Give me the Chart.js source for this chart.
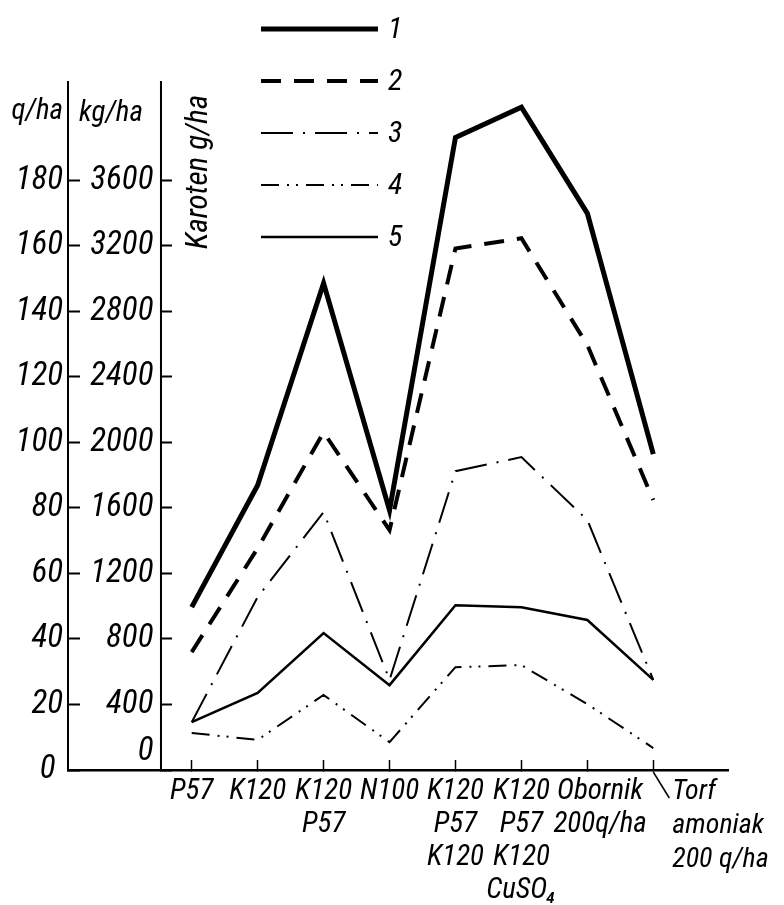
<!DOCTYPE html>
<html>
<head>
<meta charset="utf-8">
<script src="https://cdn.jsdelivr.net/npm/chart.js@4.4.0/dist/chart.umd.min.js"></script>
<style>
  html, body { margin: 0; padding: 0; background: #fff; }
  #wrap { width: 784px; height: 905px; position: relative; }
</style>
</head>
<body>
<div id="wrap"><canvas id="chart"></canvas></div>
<script>
// Kategorie nawozenia (os X)
const categories = [
    ['P57'],
    ['K120'],
    ['K120', 'P57'],
    ['N100'],
    ['K120', 'P57', 'K120'],
    ['K120', 'P57', 'K120', 'CuSO₄'],
    ['\u2002\u2002Obornik', '\u2002\u2002200q/ha'],
    ['Torf', 'amoniak', '200 q/ha']
];

const seriesNames = ['1', '2', '3', '4', '5'];

// values, in q/ha axis units
const seria1 = [49.7, 86.9, 148.6, 79.3, 193.1, 202.3, 169.9, 96.4];
const seria2 = [36.0, 67.7, 103.1, 73.2, 159.2, 162.3, 129.7, 82.4];
const seria3 = [14.6, 52.8, 78.7, 27.5, 91.2, 95.5, 76.3, 27.5];
const seria4 = [11.3, 9.2, 22.9, 8.5, 31.4, 32.0, 20.1, 6.7];
const seria5 = [14.6, 23.5, 41.8, 25.9, 50.3, 49.7, 45.8, 27.5];

// tick labels of both left axes
const qLabels = [0, 20, 40, 60, 80, 100, 120, 140, 160, 180];
const kgLabels = [0, 400, 800, 1200, 1600, 2000, 2400, 2800, 3200, 3600];

const FONT = "'Roboto Condensed', 'DejaVu Sans Condensed', 'DejaVu Sans', sans-serif";

const lineStyles = [
    { borderWidth: 5, borderDash: [] },
    { borderWidth: 4, borderDash: [20, 13] },
    { borderWidth: 2, borderDash: [32, 10, 2, 10] },
    { borderWidth: 2, borderDash: [18, 8, 2, 7, 2, 8] },
    { borderWidth: 2.5, borderDash: [] }
];

const allSeries = [seria1, seria2, seria3, seria4, seria5];

const datasets = allSeries.map((s, i) => ({
    label: seriesNames[i],
    data: s.map((v, j) => ({ x: j, y: v })),
    borderColor: '#000',
    borderWidth: lineStyles[i].borderWidth,
    borderDash: lineStyles[i].borderDash,
    borderCapStyle: 'butt',
    borderJoinStyle: 'miter',
    pointRadius: 0,
    tension: 0,
    fill: false,
    xAxisID: 'x',
    yAxisID: 'yQ'
}));

// axis lines, legend, axis titles and the Torf label with its leader line
const extrasPlugin = {
    id: 'extras',
    afterDraw(chart) {
        const ctx = chart.ctx;
        const xs = chart.scales.x;
        const area = chart.chartArea;
        ctx.save();
        ctx.fillStyle = '#000';
        ctx.strokeStyle = '#000';
        ctx.setLineDash([]);

        // both vertical axis lines, taken from the scales
        const kgX = xs.getPixelForValue(chart.options.scales.yKg.position.x);
        ctx.lineWidth = 2;
        ctx.beginPath();
        ctx.moveTo(area.left, area.top);
        ctx.lineTo(area.left, area.bottom);
        ctx.moveTo(kgX, area.top);
        ctx.lineTo(kgX, area.bottom);
        ctx.stroke();

        ctx.textBaseline = 'middle';
        ctx.font = 'italic 29px ' + FONT;
        ctx.textAlign = 'right';
        ctx.fillText('q/ha', 63, 112);
        ctx.textAlign = 'center';
        ctx.fillText('kg/ha', 111, 114);

        ctx.save();
        ctx.translate(199, 172);
        ctx.rotate(-Math.PI / 2);
        ctx.font = 'italic 31px ' + FONT;
        ctx.fillText('Karoten g/ha', 0, 0);
        ctx.restore();

        // legend
        chart.data.datasets.forEach((ds, i) => {
            const y = 29 + i * 52;
            ctx.beginPath();
            ctx.lineWidth = ds.borderWidth;
            ctx.setLineDash(ds.borderDash);
            ctx.lineCap = 'butt';
            ctx.moveTo(261, y);
            ctx.lineTo(378, y);
            ctx.stroke();
            ctx.setLineDash([]);
            ctx.font = 'italic 30px ' + FONT;
            ctx.textAlign = 'left';
            ctx.fillText(ds.label, 388, y + 1);
        });

        // last category label is set off to the right
        const last = categories.length - 1;
        const px = xs.getPixelForValue(last);
        ctx.beginPath();
        ctx.lineWidth = 1.5;
        ctx.moveTo(px, area.bottom + 2);
        ctx.lineTo(px + 16, area.bottom + 28);
        ctx.stroke();
        ctx.font = 'italic 28px ' + FONT;
        ctx.textAlign = 'left';
        categories[last].forEach((t, k) => {
            ctx.fillText(t, px + 19, area.bottom + 22 + k * 34);
        });
        ctx.restore();
    }
};

new Chart(document.getElementById('chart'), {
    type: 'line',
    data: { datasets: datasets },
    options: {
        responsive: true,
        maintainAspectRatio: false,
        animation: false,
        layout: { padding: { top: 82, right: 56, bottom: 0, left: 0 } },
        plugins: {
            legend: { display: false },
            tooltip: { enabled: false }
        },
        scales: {
            x: {
                type: 'linear',
                position: 'bottom',
                min: -1.876,
                max: 8.133,
                afterBuildTicks: (s) => { s.ticks = categories.map((c, i) => ({ value: i })); },
                afterFit: (s) => { s.height = 135; },
                border: { display: true, color: '#000', width: 2.5 },
                grid: { drawOnChartArea: false, tickLength: -10, tickColor: '#000', tickWidth: 1.5 },
                ticks: {
                    autoSkip: false,
                    maxRotation: 0,
                    padding: 15,
                    color: '#000',
                    font: { family: FONT, size: 29, style: 'italic', lineHeight: '33px' },
                    callback: (v) => (v < categories.length - 1 ? categories[v] : '')
                }
            },
            yQ: {
                axis: 'y',
                type: 'linear',
                position: 'left',
                min: 0,
                max: 210,
                afterBuildTicks: (s) => {
                    const t = [];
                    for (let v = 0; v <= 190; v += 10) t.push({ value: v });
                    s.ticks = t;
                },
                afterFit: (s) => { s.width = 68; },
                border: { display: true, color: '#000', width: 2 },
                grid: { drawOnChartArea: false, tickLength: -12, tickColor: '#000', tickWidth: 2 },
                ticks: {
                    padding: 17,
                    color: '#000',
                    font: { family: FONT, size: 33, style: 'italic' },
                    callback: (v) => (qLabels.includes(v) ? (v === 0 ? '0 ' : String(v)) : '')
                }
            },
            yKg: {
                axis: 'y',
                type: 'linear',
                position: { x: -0.466 },
                min: 0,
                max: 4200,
                afterBuildTicks: (s) => {
                    const t = [];
                    for (let v = 0; v <= 3800; v += 200) t.push({ value: v });
                    s.ticks = t;
                },
                border: { display: true, color: '#000', width: 2 },
                grid: { drawOnChartArea: false, tickLength: -12, tickColor: '#000', tickWidth: 2 },
                ticks: {
                    padding: 18,
                    color: '#000',
                    font: { family: FONT, size: 33, style: 'italic', lineHeight: '36px' },
                    callback: (v) => (kgLabels.includes(v) ? (v === 0 ? ['0 ', ''] : String(v) + ' ') : '')
                }
            }
        }
    },
    plugins: [extrasPlugin]
});
</script>
</body>
</html>
